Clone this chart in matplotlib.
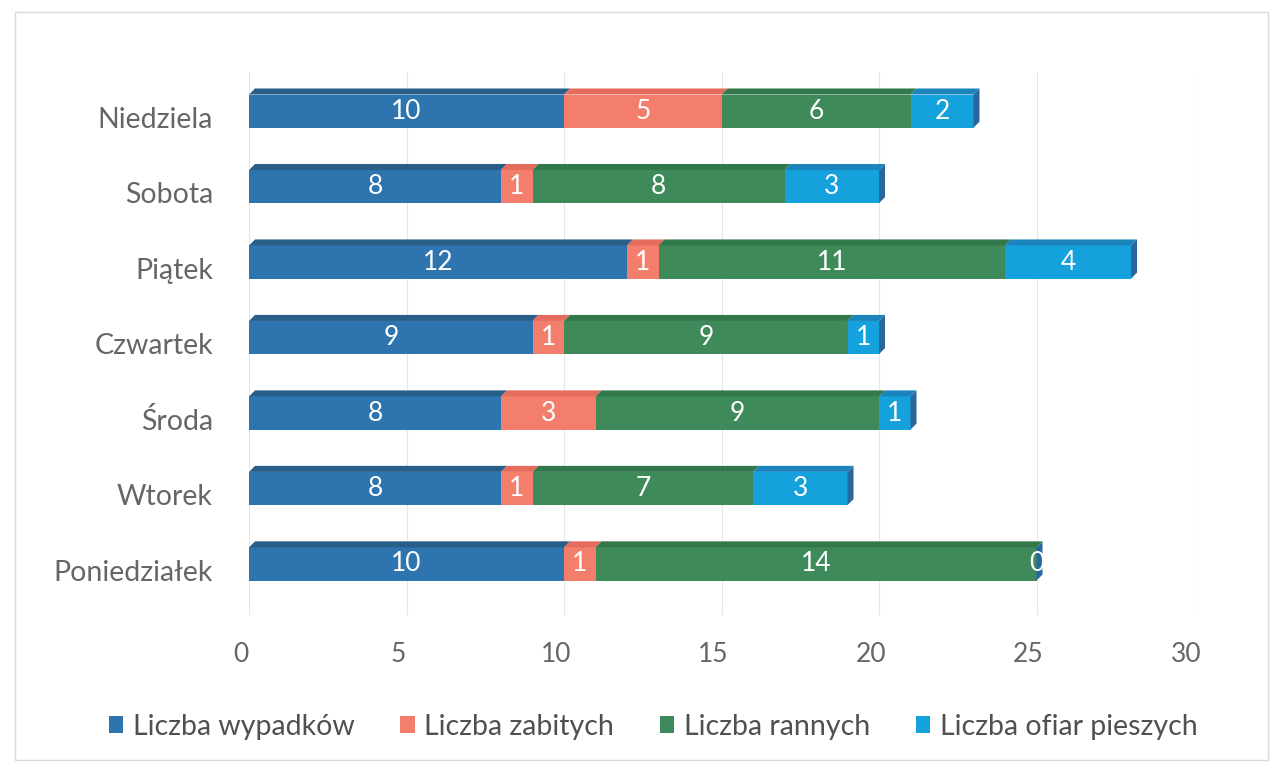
import numpy as np
import matplotlib.pyplot as plt
import matplotlib.transforms as mtransforms
from matplotlib.patches import Polygon, Rectangle

# data (bottom -> top, as drawn on the chart)
days = ["Poniedziałek", "Wtorek", "Środa", "Czwartek", "Piątek", "Sobota", "Niedziela"]
wypadki = [10, 8, 8, 9, 12, 8, 10]
zabici = [1, 1, 3, 1, 1, 1, 5]
ranni = [14, 7, 9, 9, 11, 8, 6]
piesi = [0, 3, 1, 1, 4, 3, 2]

series_names = ["Liczba wypadków", "Liczba zabitych", "Liczba rannych", "Liczba ofiar pieszych"]
colors = ["#2e74ae", "#f47e6c", "#3e8a5a", "#15a1dc"]
top_colors = ["#285e88", "#e56c5c", "#33784b", "#1c84bd"]
side_color = "#2a679c"

plt.rcParams['font.family'] = ['Lato', 'DejaVu Sans']

fig = plt.figure(figsize=(12.81, 7.73), dpi=100)
ax = fig.add_axes([0.1944, 0.204, 0.7377, 0.703])

y = np.arange(len(days))
yb = y + 0.08          # bars sit a bit above the category label
h = 0.44
dx, dy = 0.19, 0.08    # fake 3D depth (data units)

left = np.zeros(len(days))
for vals, name, c, tc in zip([wypadki, zabici, ranni, piesi], series_names, colors, top_colors):
    vals = np.array(vals, dtype=float)
    bars = ax.barh(yb, vals, left=left, height=h, color=c, label=name, zorder=3)
    for yi, l, v in zip(yb, left, vals):
        if v <= 0:
            continue
        top = yi + h / 2
        ax.add_patch(Polygon([(l, top), (l + dx, top + dy), (l + v + dx, top + dy), (l + v, top)],
                             closed=True, color=tc, zorder=3, lw=0))
    ax.bar_label(bars, labels=[f"{int(v)}" for v in vals], label_type='center',
                 color='white', fontsize=19, zorder=5)
    left = left + vals

# right side face of each stack
for yi, tot in zip(yb, left):
    bot, top = yi - h / 2, yi + h / 2
    ax.add_patch(Polygon([(tot, bot), (tot + dx, bot + dy), (tot + dx, top + dy), (tot, top)],
                         closed=True, color=side_color, zorder=3, lw=0))

ax.set_xlim(0, 30)
ax.set_ylim(-0.6, len(days) - 0.4)
ax.set_xticks(np.arange(0, 31, 5))
ax.set_yticks(y)
ax.set_yticklabels(days)
ax.tick_params(axis='both', length=0, colors='#666666')
ax.tick_params(axis='x', pad=19, labelsize=19)
ax.tick_params(axis='y', pad=26, labelsize=20.5)
# tick labels of the 3D floor sit slightly left of the bars
shift = mtransforms.ScaledTranslation(-8 / 100, 0, fig.dpi_scale_trans)
for lab in ax.get_xticklabels():
    lab.set_transform(lab.get_transform() + shift)
ax.grid(axis='x', color='#e6e6e6', lw=0.8, zorder=0)
for s in ax.spines.values():
    s.set_visible(False)

fig.legend(loc='center', bbox_to_anchor=(0.51, 0.06), ncol=4, frameon=False,
           fontsize=20.5, handlelength=0.5, handleheight=0.5, handletextpad=0.35,
           columnspacing=1.6, labelcolor='#505050')

# faint frame of the chart area
fig.add_artist(Rectangle((0.012, 0.017), 0.978, 0.967, transform=fig.transFigure,
                         fill=False, ec='#d9d9d9', lw=1))

fig.savefig("out.png", dpi=100)
